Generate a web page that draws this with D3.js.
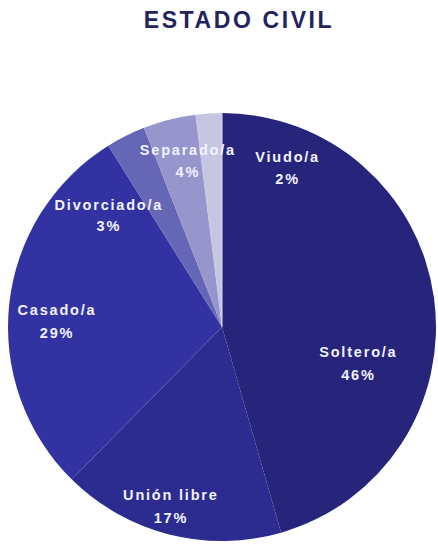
<!DOCTYPE html>
<html>
<head>
<meta charset="utf-8">
<script src="https://cdn.jsdelivr.net/npm/d3@7"></script>
<style>
  body { margin: 0; background: #fff; }
  svg { display: block; }
</style>
</head>
<body>
<script>
var categories = ["Soltero/a", "Unión libre", "Casado/a", "Divorciado/a", "Separado/a", "Viudo/a"];
var values = [46, 17, 29, 3, 4, 2];
var colors = ["#27257b", "#2c2b8f", "#3232a2", "#6666b6", "#9696cc", "#c6c6e3"];

// label nudges (manual placement like the original), relative to the centroid
var nudge = [[-29, 55], [-10, 13], [1, 8], [-38, 34], [7, -9], [76, 3]];

var width = 438, height = 547;
var cx = 222, cy = 327, radius = 214;

var svg = d3.select("body").append("svg")
    .attr("width", width)
    .attr("height", height);

svg.append("text")
    .attr("x", 239)
    .attr("y", 28)
    .attr("text-anchor", "middle")
    .style("font-family", "Liberation Sans, Arial, sans-serif")
    .style("font-weight", "bold")
    .style("font-size", "23px")
    .style("letter-spacing", "2.6px")
    .attr("fill", "#23235e")
    .text("ESTADO CIVIL");

var g = svg.append("g")
    .attr("transform", "translate(" + cx + "," + cy + ")");

var pie = d3.pie().sort(null).value(function(d) { return d; });
var arcs = pie(values);

var arc = d3.arc().innerRadius(0).outerRadius(radius);
var labelArc = d3.arc().innerRadius(167).outerRadius(167);

g.selectAll(".slice")
    .data(arcs)
  .enter().append("path")
    .attr("class", "slice")
    .attr("d", arc)
    .attr("fill", function(d, i) { return colors[i]; });

// thin light edge at 12 o'clock
g.append("line")
    .attr("x1", 0).attr("y1", 0)
    .attr("x2", 0).attr("y2", -radius)
    .attr("stroke", "#d8d8f0")
    .attr("stroke-width", 1);

var labels = g.selectAll(".lbl")
    .data(arcs)
  .enter().append("text")
    .attr("class", "lbl")
    .attr("text-anchor", "middle")
    .attr("transform", function(d, i) {
        var c = labelArc.centroid(d);
        return "translate(" + (c[0] + nudge[i][0]) + "," + (c[1] + nudge[i][1]) + ")";
    })
    .style("font-family", "Liberation Sans, Arial, sans-serif")
    .style("font-weight", "bold")
    .style("font-size", "14.5px")
    .style("letter-spacing", "1.8px")
    .attr("fill", "#f2f2ff");

labels.append("tspan")
    .attr("x", 0)
    .attr("dy", "-0.1em")
    .text(function(d, i) { return categories[i]; });

labels.append("tspan")
    .attr("x", 0)
    .attr("dy", function(d, i) { return i === 3 ? "1.4em" : "1.55em"; })
    .text(function(d) { return d.value + "%"; });
</script>
</body>
</html>
